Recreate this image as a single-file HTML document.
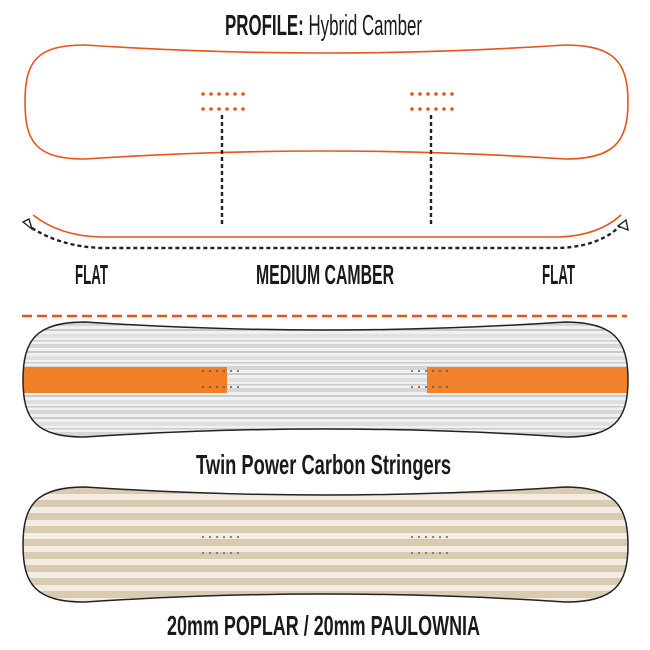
<!DOCTYPE html>
<html><head><meta charset="utf-8"><style>html,body{margin:0;padding:0;background:#fff}svg{display:block}</style></head>
<body>
<svg width="650" height="650" viewBox="0 0 650 650" xmlns="http://www.w3.org/2000/svg">
<defs>
<pattern id="gray" patternUnits="userSpaceOnUse" width="650" height="22" y="322">
<rect width="650" height="22" fill="#f1f1f1"/>
<rect y="0" width="650" height="4" fill="#d6d6d6"/>
<rect y="7" width="650" height="2" fill="#c4ccd3"/>
<rect y="12" width="650" height="4" fill="#e0e0e0"/>
<rect y="18" width="650" height="1.5" fill="#cccccc"/>
</pattern>
<pattern id="beige" patternUnits="userSpaceOnUse" width="650" height="13" y="487">
<rect width="650" height="13" fill="#f2ece2"/>
<rect y="0" width="650" height="7" fill="#d9cbb1"/>
</pattern>
<clipPath id="b2"><path d="M85,322 C36,322 23,340 23,380 C23,420 36,437 85,437 Q325,421 565,437 C614,437 628,420 628,380 C628,340 614,322 565,322 Q325,338 85,322 Z"/></clipPath>
</defs>
<g font-family="'Liberation Sans Narrow','Liberation Sans',sans-serif" font-weight="bold" fill="#1a1a1a">
<text x="225" y="35" font-size="29" textLength="197" lengthAdjust="spacingAndGlyphs">PROFILE: <tspan font-weight="normal">Hybrid Camber</tspan></text>
<text x="75" y="284" font-size="28" textLength="33" lengthAdjust="spacingAndGlyphs">FLAT</text>
<text x="256" y="284" font-size="28" textLength="138" lengthAdjust="spacingAndGlyphs">MEDIUM CAMBER</text>
<text x="542" y="284" font-size="28" textLength="33" lengthAdjust="spacingAndGlyphs">FLAT</text>
<text x="196" y="474" font-size="28" textLength="255" lengthAdjust="spacingAndGlyphs">Twin Power Carbon Stringers</text>
<text x="167" y="635" font-size="28" textLength="313" lengthAdjust="spacingAndGlyphs">20mm POPLAR / 20mm PAULOWNIA</text>
</g>
<path d="M85,45 C36,45 25,62 25,102 C25,142 36,159 85,159 Q325,143 565,159 C614,159 628,142 628,102 C628,62 614,45 565,45 Q325,61 85,45 Z" fill="none" stroke="#e8541a" stroke-width="1.6"/>
<g fill="#e8541a">
<g id="dots"><circle cx="203" cy="94" r="1.8"/><circle cx="211" cy="94" r="1.8"/><circle cx="219" cy="94" r="1.8"/><circle cx="227" cy="94" r="1.8"/><circle cx="235" cy="94" r="1.8"/><circle cx="243" cy="94" r="1.8"/>
<circle cx="203" cy="109" r="1.8"/><circle cx="211" cy="109" r="1.8"/><circle cx="219" cy="109" r="1.8"/><circle cx="227" cy="109" r="1.8"/><circle cx="235" cy="109" r="1.8"/><circle cx="243" cy="109" r="1.8"/></g>
<use href="#dots" x="209"/>
</g>
<g stroke="#222" stroke-width="2.4" stroke-dasharray="4,3" fill="none">
<line x1="222" y1="115" x2="222" y2="227"/>
<line x1="431" y1="115" x2="431" y2="227"/>
<path d="M32,228 Q60,246 100,248 L560,248 Q600,246 620,226"/>
</g>
<path d="M23,222 L32,229 L29,219 Z" fill="#fff" stroke="#222" stroke-width="1.4"/>
<path d="M626,220 L618,226 L628,230 Z" fill="#fff" stroke="#222" stroke-width="1.4"/>
<path d="M33,215 Q60,236 100,237 L558,237 Q598,236 621,215" fill="none" stroke="#e8541a" stroke-width="1.6"/>
<line x1="22" y1="316" x2="627" y2="316" stroke="#e8541a" stroke-width="2.5" stroke-dasharray="10,5"/>
<g clip-path="url(#b2)">
<rect x="0" y="300" width="650" height="150" fill="url(#gray)"/>
<rect x="23" y="367" width="204" height="26" fill="#f07f26"/>
<rect x="427" y="367" width="205" height="26" fill="#f1822b"/>
</g>
<path d="M85,322 C36,322 23,340 23,380 C23,420 36,437 85,437 Q325,421 565,437 C614,437 628,420 628,380 C628,340 614,322 565,322 Q325,338 85,322 Z" fill="none" stroke="#222" stroke-width="1.5"/>
<g fill="#555"><g id="sd"><circle cx="203" cy="371" r="1"/><circle cx="210" cy="371" r="1"/><circle cx="217" cy="371" r="1"/><circle cx="224" cy="371" r="1"/><circle cx="231" cy="371" r="1"/><circle cx="238" cy="371" r="1"/>
<circle cx="203" cy="387" r="1"/><circle cx="210" cy="387" r="1"/><circle cx="217" cy="387" r="1"/><circle cx="224" cy="387" r="1"/><circle cx="231" cy="387" r="1"/><circle cx="238" cy="387" r="1"/></g>
<use href="#sd" x="209"/></g>
<path d="M85,487 C36,487 23,505 23,545 C23,585 36,602 85,602 Q325,586 565,602 C614,602 628,585 628,545 C628,505 614,487 565,487 Q325,503 85,487 Z" fill="url(#beige)" stroke="#222" stroke-width="1.5"/>
<g fill="#666"><use href="#sd" y="166"/><use href="#sd" x="209" y="166"/></g>
</svg>
</body></html>
